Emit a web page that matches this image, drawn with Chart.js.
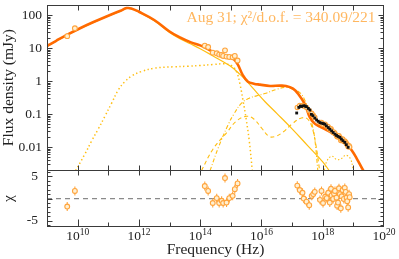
<!DOCTYPE html>
<html>
<head>
<meta charset="utf-8">
<script src="https://cdn.jsdelivr.net/npm/chart.js@4.4.1/dist/chart.umd.min.js"></script>
<style>
html, body { margin: 0; padding: 0; background: #fff; }
#wrap { width: 399px; height: 259px; position: relative; }
</style>
</head>
<body>
<div id="wrap"><canvas id="sed"></canvas></div>
<script>
// Data, all as log10(frequency / Hz) and log10(flux density / mJy)

// total model (thick orange)
const totalLogNu = [9.0, 9.3, 9.65, 10.08, 10.5, 11.0, 11.4, 11.6, 11.75, 12.0, 12.5, 13.0, 13.34, 13.7, 14.0, 14.15, 14.42, 14.7, 14.97, 15.1, 15.23, 15.39, 15.56, 15.75, 15.95, 16.28, 16.6, 16.8, 17.03, 17.19, 17.42, 17.58, 17.75, 17.91, 18.1, 18.3, 18.5, 18.72, 18.95, 19.11, 19.28, 19.35];
const totalLogF  = [1.06, 1.22, 1.40, 1.60, 1.78, 1.98, 2.13, 2.21, 2.20, 2.10, 1.85, 1.50, 1.32, 1.17, 1.08, 1.02, 0.88, 0.79, 0.72, 0.66, 0.50, 0.18, -0.02, -0.08, -0.11, -0.15, -0.14, -0.15, -0.23, -0.38, -0.71, -1.10, -1.30, -1.38, -1.47, -1.57, -1.70, -1.84, -2.11, -2.35, -2.64, -2.75];

// synchrotron (solid gold)
const synLogNu = [9.0, 9.65, 10.08, 10.5, 11.0, 11.4, 11.6, 11.75, 12.0, 12.5, 13.0, 13.34, 13.7, 14.0, 14.42, 14.97, 15.3, 15.56, 15.8, 16.11, 16.5, 17.0, 17.5, 18.0, 18.2];
const synLogF  = [1.05, 1.39, 1.59, 1.77, 1.97, 2.12, 2.20, 2.19, 2.09, 1.83, 1.47, 1.28, 1.12, 0.98, 0.76, 0.46, 0.20, -0.05, -0.30, -0.62, -0.98, -1.45, -1.95, -2.45, -2.70];

// dotted component
const dotLogNu = [9.93, 10.24, 10.46, 10.67, 10.89, 11.11, 11.33, 11.54, 11.76, 12.09, 12.52, 13.12, 13.61, 14.0, 14.42, 14.8, 15.05, 15.2, 15.3, 15.4, 15.5, 15.6, 15.7];
const dotLogF  = [-2.72, -2.21, -1.81, -1.46, -1.07, -0.67, -0.27, -0.02, 0.15, 0.29, 0.39, 0.43, 0.45, 0.47, 0.50, 0.52, 0.45, 0.25, -0.10, -0.60, -1.15, -1.80, -2.70];

// dash-dot component
const ddLogNu = [14.32, 14.6, 14.9, 15.1, 15.35, 15.6, 15.84, 16.11, 16.5, 16.8, 17.0, 17.25, 17.4, 17.52, 17.65, 17.74, 17.84];
const ddLogF  = [-2.72, -2.00, -1.35, -1.00, -0.67, -0.52, -0.45, -0.38, -0.25, -0.19, -0.24, -0.35, -0.55, -0.85, -1.30, -1.75, -2.72];

// dashed component
const dashLogNu = [14.04, 14.42, 14.86, 15.19, 15.52, 15.75, 16.0, 16.25, 16.45, 16.7, 17.0, 17.3, 17.5, 17.65, 17.78, 17.9];
const dashLogF  = [-2.72, -2.06, -1.57, -1.21, -1.07, -1.15, -1.42, -1.68, -1.68, -1.55, -1.30, -1.12, -1.15, -1.40, -1.95, -2.72];

// small dotted bump at hard X-rays
const lineLogNu = [18.05, 18.15, 18.3, 18.45, 18.6, 18.75, 18.9, 19.0];
const lineLogF  = [-2.70, -2.40, -2.28, -2.38, -2.36, -2.25, -2.35, -2.70];

// radio / IR / optical photometry (open circles)
const photLogNu = [9.66, 9.91, 14.15, 14.26, 14.41, 14.54, 14.62, 14.70, 14.75, 14.81, 14.86, 14.95, 15.06, 15.13, 15.22];
const photLogF  = [1.36, 1.60, 1.07, 1.03, 0.86, 0.84, 0.80, 0.79, 0.76, 0.93, 0.74, 0.73, 0.72, 0.76, 0.62];
const photChi   = [-1.8, 1.7, 2.8, 1.7, -1.0, 0.1, -1.0, -0.5, -1.0, 4.6, -0.9, 0.1, 0.6, 2.1, 3.4];

// X-ray bins (open circles) and their residuals
const xrLogNu = [17.17, 17.25, 17.34, 17.38, 17.47, 17.56, 17.64, 17.69, 17.74, 17.91, 17.96, 18.01, 18.08, 18.13, 18.18, 18.23, 18.27, 18.29, 18.34, 18.37, 18.40, 18.45, 18.47, 18.50, 18.53, 18.56, 18.59, 18.62, 18.65, 18.69, 18.72, 18.75, 18.78, 18.80, 18.83, 18.86, 18.88];
const xrLogF  = [-0.80, -0.74, -0.74, -0.76, -0.80, -0.90, -0.98, -1.04, -1.10, -1.26, -1.26, -1.31, -1.31, -1.36, -1.39, -1.46, -1.45, -1.50, -1.56, -1.55, -1.59, -1.65, -1.69, -1.69, -1.66, -1.71, -1.80, -1.77, -1.76, -1.83, -1.82, -1.86, -1.90, -1.93, -1.99, -1.96, -2.00];
const xrChi   = [2.9, 1.9, 1.3, 0.0, -0.7, -1.5, 0.6, 1.0, 1.5, -0.3, 1.7, -1.0, 0.4, 0.1, 1.3, -0.9, 2.2, 0.7, -0.1, 1.1, 1.7, 0.2, -1.6, -0.9, 2.3, 1.0, -2.2, 0.5, 1.9, -0.1, 2.4, 1.5, 0.2, -0.6, -2.0, 1.0, 0.3];

// X-ray spectrum (black squares)
const blkLogNu = [17.15, 17.22, 17.27, 17.31, 17.38, 17.43, 17.47, 17.53, 17.58, 17.63, 17.68, 17.74, 17.80, 17.85, 17.91, 17.97, 18.02, 18.07, 18.12, 18.18, 18.23, 18.29, 18.34, 18.40, 18.45, 18.50, 18.56, 18.61, 18.66, 18.72, 18.77, 18.83];
const blkLogF  = [-0.97, -0.80, -0.76, -0.77, -0.75, -0.76, -0.78, -0.83, -0.88, -1.01, -1.05, -1.12, -1.18, -1.22, -1.26, -1.28, -1.29, -1.31, -1.36, -1.41, -1.46, -1.51, -1.56, -1.61, -1.65, -1.68, -1.71, -1.76, -1.81, -1.86, -1.93, -2.01];

// axes
const freqRange = [1e9, 1e20];
const fluxRange = [0.002, 200];
const chiRange = [-6.4, 6.4];
const fluxTicks = [0.01, 0.1, 1, 10, 100];
const chiTicks = [-5, 0, 5];
const freqLabelExp = [10, 12, 14, 16, 18, 20];
const zeroLine = [0, 0];
const fitLabel = 'Aug 31; \u03c7\u00b2/d.o.f. = 340.09/221';

const SERIF = "'Liberation Serif', 'Times New Roman', serif";
const INK = '#222';
const FRAME = '#3a3a3a';
const ORANGE = '#ff6a00';
const GOLD = '#ffbe10';
const DATA_EDGE = '#ffa43c';
const DATA_FILL = '#fff0d2';

const p10 = v => Math.pow(10, v);
const toPts = (lx, ly) => lx.map((x, i) => ({ x: p10(x), y: p10(ly[i]) }));
const toRes = (lx, c) => lx.map((x, i) => ({ x: p10(x), y: c[i] }));

function modelLine(label, lx, ly, color, width, dash, order) {
    return {
        type: 'line', label, data: toPts(lx, ly), yAxisID: 'y',
        borderColor: color, borderWidth: width, borderDash: dash,
        pointRadius: 0, fill: false, tension: 0.4, order
    };
}

function circles(label, data, axis, order, err, r) {
    return {
        type: 'scatter', label, data, yAxisID: axis, order,
        pointStyle: 'circle', pointRadius: r || 2.4, borderWidth: 1.1,
        borderColor: DATA_EDGE, backgroundColor: DATA_FILL, errBars: err
    };
}

// no extra padding around the stacked panels
function fixY(s) { s.width = 47; s.paddingTop = 0; s.paddingBottom = 0; }

// clip each dataset to its own panel, and draw residual error bars
const panelPlugin = {
    id: 'panels',
    beforeDatasetDraw(chart, args) {
        const { ctx, chartArea: ca } = chart;
        const ys = args.meta.yScale;
        ctx.save();
        ctx.beginPath();
        ctx.rect(ca.left, ys.top, ca.right - ca.left, ys.bottom - ys.top);
        ctx.clip();
        const ds = chart.data.datasets[args.index];
        if (ds.errBars) {
            ctx.strokeStyle = DATA_EDGE;
            ctx.lineWidth = 1.1;
            args.meta.data.forEach((el, i) => {
                const v = ds.data[i].y;
                ctx.beginPath();
                ctx.moveTo(el.x, ys.getPixelForValue(v - 1));
                ctx.lineTo(el.x, ys.getPixelForValue(v + 1));
                ctx.stroke();
            });
        }
    },
    afterDatasetDraw(chart) {
        chart.ctx.restore();
    },
    afterDatasetsDraw(chart) {
        const { ctx, chartArea: ca, scales } = chart;
        const xs = scales.x, ys = scales.y, rs = scales.yRes;
        const L = Math.round(ca.left) + 0.5, R = Math.round(ca.right) - 0.5;
        const T = Math.round(ys.top) + 0.5, M = Math.round(ys.bottom) + 0.5, B = Math.round(rs.bottom) - 0.5;
        ctx.save();
        ctx.strokeStyle = FRAME;
        ctx.lineWidth = 1;
        const seg = (x1, y1, x2, y2) => { ctx.beginPath(); ctx.moveTo(x1, y1); ctx.lineTo(x2, y2); ctx.stroke(); };
        ctx.strokeRect(L, T, R - L, B - T);
        seg(L, M, R, M);

        // frequency ticks
        for (let e = 10; e < 20; e++) {
            const px = Math.round(xs.getPixelForValue(p10(e))) + 0.5;
            seg(px, T, px, T + 5);
            seg(px, M - 5, px, M + 5);
            seg(px, B, px, B - (e % 2 === 0 ? 7 : 4));
        }
        // flux ticks
        for (let d = -3; d <= 2; d++) {
            for (let m = 1; m <= 9; m++) {
                const v = m * p10(d);
                if (v < fluxRange[0] || v > fluxRange[1]) continue;
                const py = Math.round(ys.getPixelForValue(v)) + 0.5;
                const len = m === 1 ? 5 : 3;
                seg(L, py, L + len, py);
                seg(R, py, R - len, py);
            }
        }
        // chi ticks
        for (let c = -6; c <= 6; c++) {
            const py = Math.round(rs.getPixelForValue(c)) + 0.5;
            const len = c % 5 === 0 ? 5 : 3;
            seg(L, py, L + len, py);
            seg(R, py, R - len, py);
        }

        // frequency labels as 10^n
        ctx.fillStyle = INK;
        ctx.textBaseline = 'alphabetic';
        freqLabelExp.forEach(e => {
            const px = xs.getPixelForValue(p10(e));
            ctx.font = '13.5px ' + SERIF;
            const wBase = ctx.measureText('10').width;
            ctx.font = '9.5px ' + SERIF;
            const wExp = ctx.measureText(String(e)).width;
            const x0 = px - (wBase + wExp) / 2;
            ctx.font = '13.5px ' + SERIF;
            ctx.fillText('10', x0, B + 13);
            ctx.font = '9.5px ' + SERIF;
            ctx.fillText(String(e), x0 + wBase, B + 8);
        });

        // fit statistics
        ctx.font = '15.5px ' + SERIF;
        ctx.fillStyle = '#ffb760';
        ctx.textAlign = 'right';
        ctx.textBaseline = 'middle';
        ctx.fillText(fitLabel, R - 8, T + 12);
        ctx.restore();
    }
};

const datasets = [
    { type: 'scatter', label: 'X-ray spectrum', data: toPts(blkLogNu, blkLogF), yAxisID: 'y', order: 0,
      pointStyle: 'rect', pointRadius: 2, borderWidth: 0, backgroundColor: '#111', borderColor: '#111' },
    circles('X-ray', toPts(xrLogNu, xrLogF), 'y', 1, false, 2.2),
    circles('photometry', toPts(photLogNu, photLogF), 'y', 2, false),
    modelLine('total', totalLogNu, totalLogF, ORANGE, 2.6, [], 3),
    modelLine('synchrotron', synLogNu, synLogF, GOLD, 1.2, [], 4),
    modelLine('dotted', dotLogNu, dotLogF, GOLD, 1.5, [1.4, 2.6], 5),
    modelLine('dash-dot', ddLogNu, ddLogF, GOLD, 1.1, [4, 2, 1, 2], 6),
    modelLine('dashed', dashLogNu, dashLogF, GOLD, 1.1, [4, 3], 7),
    modelLine('line', lineLogNu, lineLogF, GOLD, 1.1, [1.4, 2], 8),
    circles('photometry residuals', toRes(photLogNu, photChi), 'yRes', 1, true),
    circles('X-ray residuals', toRes(xrLogNu, xrChi), 'yRes', 1, true),
    { type: 'line', label: 'zero', data: freqRange.map((f, i) => ({ x: f, y: zeroLine[i] })), yAxisID: 'yRes', order: 9,
      borderColor: '#8a8a8a', borderWidth: 1.2, borderDash: [5, 4], pointRadius: 0 }
];

new Chart(document.getElementById('sed'), {
    data: { datasets },
    options: {
        responsive: true,
        maintainAspectRatio: false,
        animation: false,
        events: [],
        layout: { padding: { top: 1, right: 15, bottom: 0, left: 0 } },
        plugins: { legend: { display: false }, tooltip: { enabled: false } },
        scales: {
            x: {
                type: 'logarithmic', position: 'bottom',
                min: freqRange[0], max: freqRange[1],
                grid: { display: false, drawTicks: false }, border: { display: false },
                ticks: { display: false },
                title: { display: true, text: 'Frequency (Hz)', color: INK,
                         font: { family: SERIF, size: 15.5 }, padding: { top: 0, bottom: 0 } },
                afterFit: s => { s.height = 32; s.paddingLeft = 0; s.paddingRight = 0; }
            },
            yRes: {
                type: 'linear', position: 'left', stack: 'sed', stackWeight: 58,
                min: chiRange[0], max: chiRange[1],
                grid: { display: false, drawTicks: false }, border: { display: false },
                afterBuildTicks: s => { s.ticks = chiTicks.map(v => ({ value: v })); },
                ticks: { color: INK, padding: 9, font: { family: SERIF, size: 13.5 }, callback: v => String(v) },
                title: { display: true, text: '\u03c7', color: INK,
                         font: { family: SERIF, size: 15.5 }, padding: { top: 0, bottom: 0 } },
                afterFit: fixY
            },
            y: {
                type: 'logarithmic', position: 'left', stack: 'sed', stackWeight: 168,
                min: fluxRange[0], max: fluxRange[1],
                grid: { display: false, drawTicks: false }, border: { display: false },
                afterBuildTicks: s => { s.ticks = fluxTicks.map(v => ({ value: v })); },
                ticks: { color: INK, padding: 5, font: { family: SERIF, size: 13.5 }, callback: v => String(v) },
                title: { display: true, text: 'Flux density (mJy)', color: INK,
                         font: { family: SERIF, size: 15.5 }, padding: { top: 0, bottom: 0 } },
                afterFit: fixY
            }
        }
    },
    plugins: [panelPlugin]
});
</script>
</body>
</html>
